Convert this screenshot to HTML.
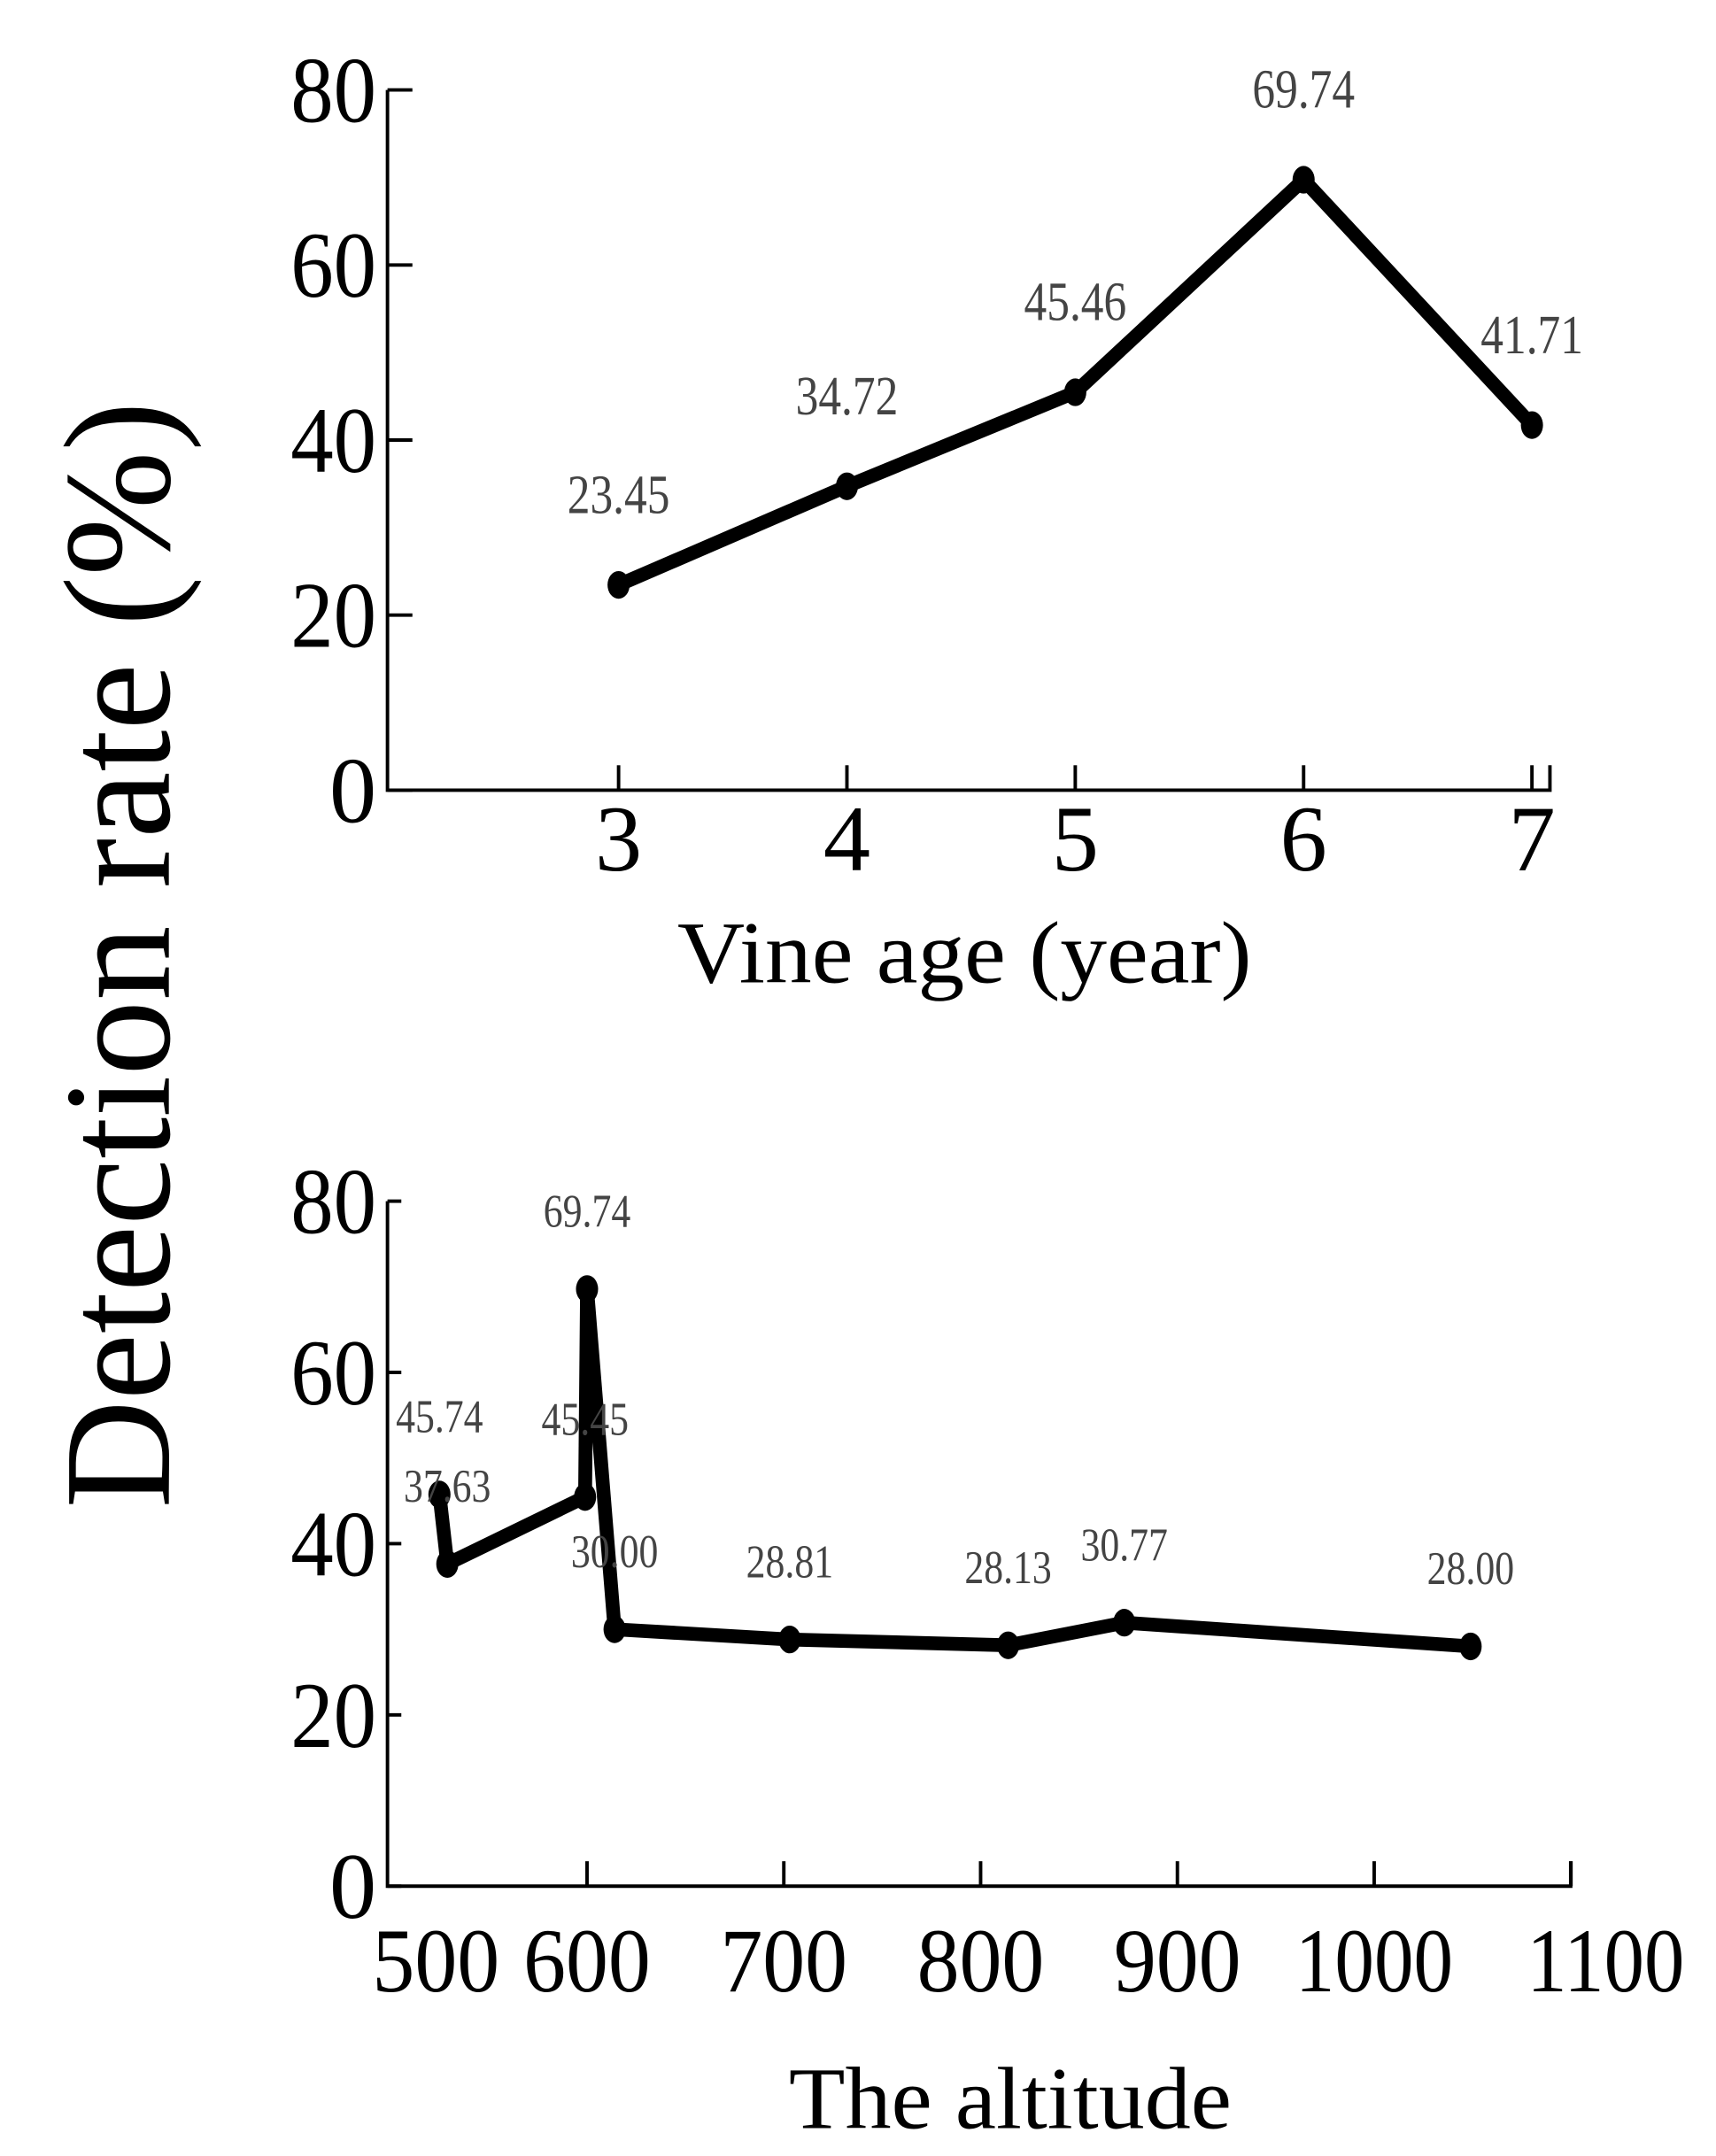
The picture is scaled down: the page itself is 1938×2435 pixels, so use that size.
<!DOCTYPE html>
<html><head><meta charset="utf-8"><style>
html,body{margin:0;padding:0;background:#fff}
svg{display:block}
text{font-family:"Liberation Serif",serif}
</style></head><body>
<svg id="fig" width="1938" height="2435" viewBox="0 0 1240 1558">
<text transform="translate(122,690) rotate(-90)" text-anchor="middle" font-size="110" textLength="800" lengthAdjust="spacingAndGlyphs" fill="#000">Detection rate (%)</text>
<g id="top"></g>
<g id="bot"></g>
</svg>
<script>
// Top chart data
const ageCats = [3, 4, 5, 6, 7];
const ageVals = [23.45, 34.72, 45.46, 69.74, 41.71];
const ageLabels = ["23.45", "34.72", "45.46", "69.74", "41.71"];
const yTicks = [0, 20, 40, 60, 80];
// Bottom chart data
const altVals = [525, 529, 599, 600, 614, 703, 814, 873, 1049];
const altRates = [45.74, 37.63, 45.45, 69.74, 30.00, 28.81, 28.13, 30.77, 28.00];
const altLabels = ["45.74", "37.63", "45.45", "69.74", "30.00", "28.81", "28.13", "30.77", "28.00"];
const altTicks = [500, 600, 700, 800, 900, 1000, 1100];

const NS = "http://www.w3.org/2000/svg";
function mk(tag, attrs, parent, txt) {
  const e = document.createElementNS(NS, tag);
  for (const k in attrs) e.setAttribute(k, attrs[k]);
  if (txt !== undefined) e.textContent = txt;
  parent.appendChild(e);
  return e;
}

// ---- top chart ----
(function () {
  const g = document.getElementById('top');
  const x0 = 280, yTop = 65, yBot = 571;
  const xs = v => 447 + (v - 3) * 165;
  const ys = v => yBot - (v / 80) * (yBot - yTop);
  let e = mk('path', { d: `M${x0},${yTop}V${yBot}H1120V${yBot-18}`, fill: 'none', stroke: '#000', 'stroke-width': 2.5 }, g);
  
  
  yTicks.forEach(t => {
    let l = mk('line', { x1: x0, x2: x0 + 18, y1: ys(t), y2: ys(t), stroke: '#000', 'stroke-width': 2.5 }, g);
    
    
    let tx = mk('text', { x: x0 - 8, y: ys(t) + 23, 'text-anchor': 'end', 'font-size': 68, textLength: 62, lengthAdjust: 'spacingAndGlyphs' }, g, String(t));
    if (t === 0) { tx.removeAttribute('textLength'); tx.removeAttribute('lengthAdjust'); }
    
    
  });
  ageCats.forEach(c => {
    let l = mk('line', { x1: xs(c), x2: xs(c), y1: yBot, y2: yBot - 18, stroke: '#000', 'stroke-width': 2.5 }, g);
    
    
    let tx = mk('text', { x: xs(c), y: yBot + 58, 'text-anchor': 'middle', 'font-size': 68 }, g, String(c));
    
    
  });
  let p = mk('polyline', { points: ageCats.map((c, i) => xs(c) + ',' + ys(ageVals[i])).join(' '), fill: 'none', stroke: '#000', 'stroke-width': 10, 'stroke-linejoin': 'round' }, g);
  
  
  ageCats.forEach((c, i) => {
    let m = mk('ellipse', { cx: xs(c), cy: ys(ageVals[i]), rx: 8, ry: 10, fill: '#000' }, g);
    
    
    let t = mk('text', { x: xs(c), y: ys(ageVals[i]) - 52, 'text-anchor': 'middle', 'font-size': 40, fill: '#444', textLength: 74, lengthAdjust: 'spacingAndGlyphs' }, g, ageLabels[i]);
    
    
  });
  let xt = mk('text', { x: 697, y: 710, 'text-anchor': 'middle', 'font-size': 64, textLength: 415, lengthAdjust: 'spacingAndGlyphs' }, g, 'Vine age (year)');
  
  
})();

// ---- bottom chart ----
(function () {
  const g = document.getElementById('bot');
  const x0 = 280, yTop = 868, yBot = 1363;
  const xs = v => 282 + (v - 500) * 1.422;
  const ys = v => yBot - (v / 80) * (yBot - yTop);
  let e = mk('path', { d: `M${x0},${yTop}V${yBot}H1135V${yBot-18}`, fill: 'none', stroke: '#000', 'stroke-width': 2.5 }, g);
  
  
  yTicks.forEach(t => {
    let l = mk('line', { x1: x0, x2: x0 + 10, y1: ys(t), y2: ys(t), stroke: '#000', 'stroke-width': 2.5 }, g);
    
    
    let tx = mk('text', { x: x0 - 8, y: ys(t) + 23, 'text-anchor': 'end', 'font-size': 68, textLength: 62, lengthAdjust: 'spacingAndGlyphs' }, g, String(t));
    if (t === 0) { tx.removeAttribute('textLength'); tx.removeAttribute('lengthAdjust'); }
    
    
  });
  altTicks.forEach((c, i) => {
    if (i > 0) {
      let l = mk('line', { x1: xs(c), x2: xs(c), y1: yBot, y2: yBot - 18, stroke: '#000', 'stroke-width': 2.5 }, g);
      
      
    }
    const off = i === 0 ? 33 : (i === altTicks.length - 1 ? 25 : 0);
    const len = String(c).length === 3 ? 92 : 114;
    let tx = mk('text', { x: xs(c) + off, y: yBot + 76, 'text-anchor': 'middle', 'font-size': 66, textLength: len, lengthAdjust: 'spacingAndGlyphs' }, g, String(c));
    
    
  });
  let p = mk('polyline', { points: altVals.map((c, i) => xs(c) + ',' + ys(altRates[i])).join(' '), fill: 'none', stroke: '#000', 'stroke-width': 10, 'stroke-linejoin': 'round' }, g);
  
  
  altVals.forEach((c, i) => {
    let m = mk('ellipse', { cx: xs(c), cy: ys(altRates[i]), rx: 8, ry: 10, fill: '#000' }, g);
    
    
    let t = mk('text', { x: xs(c), y: ys(altRates[i]) - 45, 'text-anchor': 'middle', 'font-size': 34, fill: '#444', textLength: 63, lengthAdjust: 'spacingAndGlyphs' }, g, altLabels[i]);
    
    
  });
  let xt = mk('text', { x: 730, y: 1538, 'text-anchor': 'middle', 'font-size': 64, textLength: 320, lengthAdjust: 'spacingAndGlyphs' }, g, 'The altitude');
  
  
})();
</script>
</body></html>
